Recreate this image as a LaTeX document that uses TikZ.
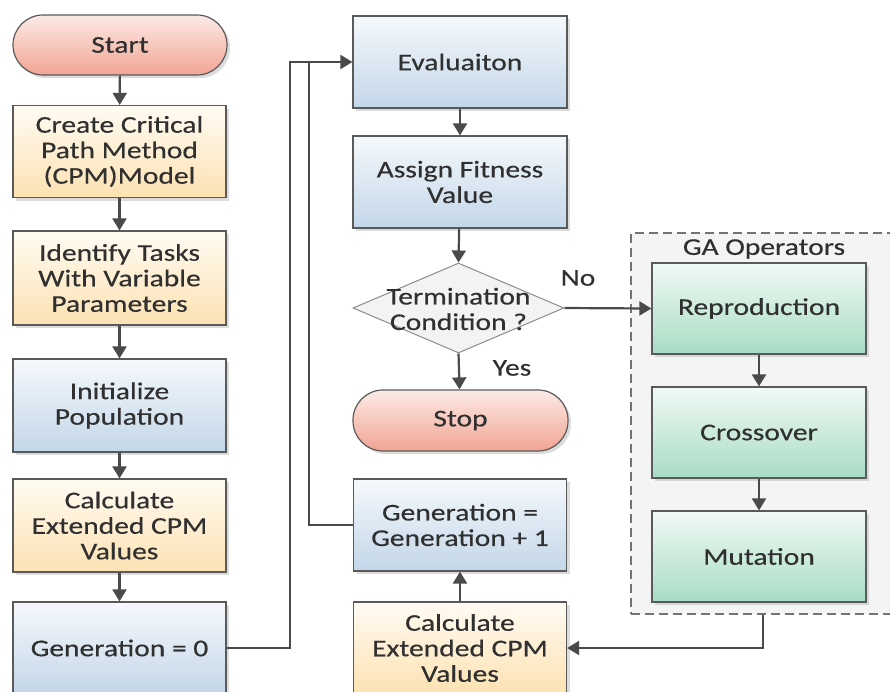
\documentclass[tikz,border=0pt]{standalone}
\usepackage{fontspec}
\setmainfont[FakeStretch=1.23,FakeBold=0.4]{Carlito}
\usetikzlibrary{arrows.meta,shapes.geometric,shadows}

\definecolor{txt}{HTML}{303030}
\definecolor{edge}{HTML}{5A5A5A}
\definecolor{wire}{HTML}{4A4A4A}
\definecolor{orgtop}{HTML}{FFFBF3}
\definecolor{orgbot}{HTML}{FDE2B2}
\definecolor{blutop}{HTML}{F5F9FC}
\definecolor{blubot}{HTML}{C3D6E8}
\definecolor{grntop}{HTML}{F1FAF5}
\definecolor{grnbot}{HTML}{A8DCC4}
\definecolor{redtop}{HTML}{FCEAE6}
\definecolor{redbot}{HTML}{F2A493}
\definecolor{decfill}{HTML}{F3F3F3}
\definecolor{grpfill}{HTML}{F4F4F4}

\tikzset{
  base/.style={draw=edge, line width=1.2pt, text=txt, align=center, inner sep=0pt,
    minimum width=213pt, minimum height=92pt,
    font=\fontsize{24}{25.5}\selectfont,
    drop shadow={shadow xshift=3pt, shadow yshift=-3pt, fill=black!30, opacity=.45}},
  orangebox/.style={base, top color=orgtop, bottom color=orgbot},
  bluebox/.style={base, top color=blutop, bottom color=blubot},
  greenbox/.style={base, top color=grntop, bottom color=grnbot, minimum width=214pt, minimum height=91pt},
  terminal/.style={base, rounded corners=30pt, minimum width=214pt, minimum height=60pt,
    top color=redtop, bottom color=redbot},
  decision/.style={diamond, draw=black!45, line width=1pt, fill=decfill, inner sep=0pt,
    minimum width=211pt, minimum height=90pt},
  label/.style={text=txt, font=\fontsize{24}{25.5}\selectfont, inner sep=0pt, align=center},
  flow/.style={draw=wire, line width=2.2pt, -{Triangle[width=14pt,length=12pt]}},
  plain/.style={draw=wire, line width=2.2pt},
}

\begin{document}
\begin{tikzpicture}[x=1pt, y=-1pt]
  \useasboundingbox (0,0) rectangle (890,691);

  % GA operator group
  \node[draw=black!55, dashed, dash pattern=on 9pt off 5pt, line width=1.2pt, fill=grpfill,
        minimum width=264pt, minimum height=381pt, inner sep=0pt] (ga) at (763,423.5) {};
  \node[label] (gatitle) at (764,249) {GA Operators};

  % left column
  \node[terminal] (start) at (120,45) {Start};
  \node[orangebox] (create) at (119.5,151.5) {Create Critical\\Path Method\\(CPM)Model};
  \node[orangebox, minimum height=94pt] (identify) at (119.5,278) {Identify Tasks\\With Variable\\Parameters};
  \node[bluebox, minimum height=93pt] (init) at (119.5,405.5) {Initialize\\Population};
  \node[orangebox, minimum height=93pt] (calcA) at (119.5,525.5) {Calculate\\Extended CPM\\Values};
  \node[bluebox] (gen0) at (119.5,648) {Generation = 0};

  % middle column
  \node[bluebox, minimum width=214pt] (eval) at (460,62) {Evaluaiton};
  \node[bluebox, minimum width=214pt] (assign) at (460,182) {Assign Fitness\\Value};
  \node[decision] (term) at (458.5,308) {};
  \node[label] (termtxt) at (458.5,309) {Termination\\Condition ?};
  \node[terminal, minimum width=215pt, minimum height=61pt] (stop) at (460.5,420.5) {Stop};
  \node[bluebox] (genp) at (460,525) {Generation =\\Generation + 1};
  \node[orangebox] (calcB) at (460,648) {Calculate\\Extended CPM\\Values};

  % GA operators
  \node[greenbox] (repro) at (759,308.5) {Reproduction};
  \node[greenbox] (cross) at (759,432.5) {Crossover};
  \node[greenbox] (mut) at (759,556.5) {Mutation};

  % loop junctions
  \coordinate (loopA) at (290,300);
  \coordinate (loopB) at (309,63);

  % connectors
  \draw[flow] (start) -- (create);
  \draw[flow] (create) -- (identify);
  \draw[flow] (identify) -- (init);
  \draw[flow] (init) -- (calcA);
  \draw[flow] (calcA) -- (gen0);
  \draw[flow] (gen0.east) -| (loopA) |- (eval.west);
  \draw[plain] (genp.west) -| (loopB);
  \draw[flow] (eval) -- (assign);
  \draw[flow] (assign) -- (term.north);
  \draw[flow] (term.south) -- (stop);
  \draw[flow] (term.east) -- (repro.west);
  \draw[flow] (repro) -- (cross);
  \draw[flow] (cross) -- (mut);
  \draw[flow] (ga.south) |- (calcB.east);
  \draw[flow] (calcB) -- (genp);

  \node[label] (nolbl) at (578,278) {No};
  \node[label] (yeslbl) at (512,368) {Yes};
\end{tikzpicture}
\end{document}
